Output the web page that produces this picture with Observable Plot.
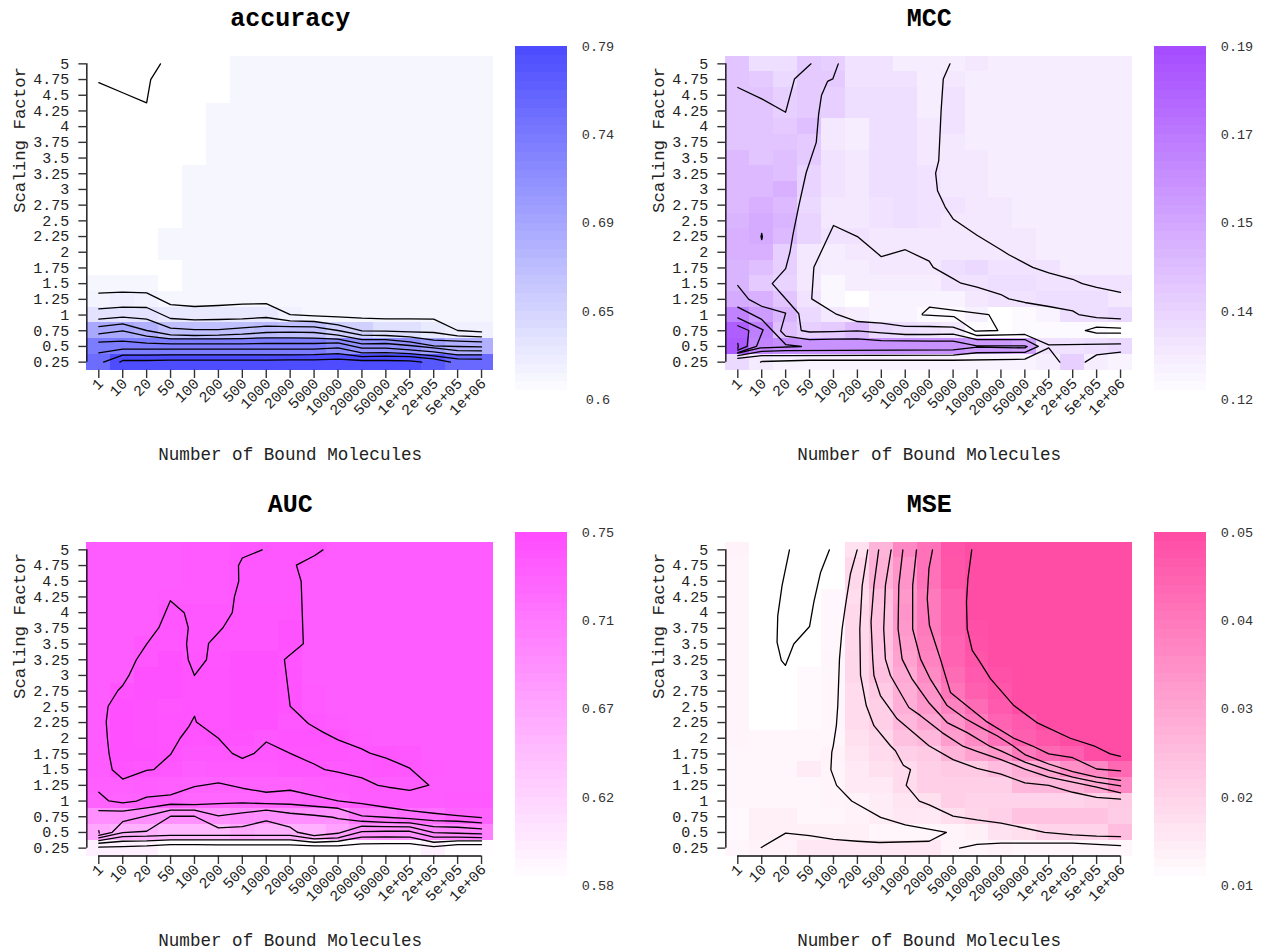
<!DOCTYPE html>
<html><head><meta charset="utf-8">
<script src="https://cdn.jsdelivr.net/npm/d3@7"></script>
<script src="https://cdn.jsdelivr.net/npm/@observablehq/plot@0.6"></script>
<style>
html,body{margin:0;padding:0;background:#fff}
#root{position:relative;width:1265px;height:949px;overflow:hidden}
#root>svg{position:absolute}
</style></head><body><div id="root"></div>
<script>
const xLabels=["1","10","20","50","100","200","500","1000","2000","5000","10000","20000","50000","1e+05","2e+05","5e+05","1e+06"];
const yValues=[5,4.75,4.5,4.25,4,3.75,3.5,3.25,3,2.75,2.5,2.25,2,1.75,1.5,1.25,1,0.75,0.5,0.25];

const accuracyCells=[
[.6,.6,.6,.6,.6,.6,.61,.61,.61,.61,.61,.61,.61,.61,.61,.61,.61],
[.6,.6,.6,.6,.6,.6,.61,.61,.61,.61,.61,.61,.61,.61,.61,.61,.61],
[.6,.6,.6,.6,.6,.6,.61,.61,.61,.61,.61,.61,.61,.61,.61,.61,.61],
[.6,.6,.6,.6,.6,.61,.61,.61,.61,.61,.61,.61,.61,.61,.61,.61,.61],
[.6,.6,.6,.6,.6,.61,.61,.61,.61,.61,.61,.61,.61,.61,.61,.61,.61],
[.6,.6,.6,.6,.6,.61,.61,.61,.61,.61,.61,.61,.61,.61,.61,.61,.61],
[.6,.6,.6,.6,.6,.61,.61,.61,.61,.61,.61,.61,.61,.61,.61,.61,.61],
[.6,.6,.6,.6,.61,.61,.61,.61,.61,.61,.61,.61,.61,.61,.61,.61,.61],
[.6,.6,.6,.6,.61,.61,.61,.61,.61,.61,.61,.61,.61,.61,.61,.61,.61],
[.6,.6,.6,.6,.61,.61,.61,.61,.61,.61,.61,.61,.61,.61,.61,.61,.61],
[.6,.6,.6,.6,.61,.61,.61,.61,.61,.61,.61,.61,.61,.61,.61,.61,.61],
[.6,.6,.6,.61,.61,.61,.61,.61,.61,.61,.61,.61,.61,.61,.61,.61,.61],
[.6,.6,.6,.61,.61,.61,.61,.61,.61,.61,.61,.61,.61,.61,.61,.61,.61],
[.6,.6,.6,.6,.61,.61,.61,.61,.61,.61,.61,.61,.61,.61,.61,.61,.61],
[.61,.61,.61,.6,.61,.61,.61,.61,.61,.61,.61,.61,.61,.61,.61,.61,.61],
[.612,.618,.615,.61,.61,.61,.61,.61,.61,.61,.61,.61,.61,.61,.61,.61,.61],
[.63,.63,.63,.625,.625,.625,.625,.625,.615,.61,.61,.61,.61,.61,.61,.61,.61],
[.693,.693,.684,.667,.667,.667,.667,.673,.667,.667,.65,.65,.633,.633,.622,.616,.616],
[.74,.74,.74,.74,.74,.74,.74,.74,.74,.74,.725,.718,.718,.718,.7,.684,.684],
[.757,.79,.79,.79,.79,.79,.79,.79,.79,.79,.79,.79,.79,.79,.778,.76,.76]];

const mccCells=[
[.143,.133,.133,.141,.139,.131,.131,.127,.127,.127,.129,.127,.127,.127,.127,.127,.127],
[.143,.141,.135,.141,.141,.131,.131,.131,.127,.129,.127,.127,.127,.127,.127,.127,.127],
[.143,.143,.139,.141,.139,.133,.133,.133,.127,.131,.127,.127,.127,.127,.127,.127,.127],
[.143,.143,.139,.141,.139,.133,.133,.133,.127,.131,.127,.127,.127,.127,.127,.127,.127],
[.143,.143,.141,.145,.129,.127,.133,.133,.129,.131,.127,.127,.127,.127,.127,.127,.127],
[.143,.143,.143,.141,.129,.127,.133,.133,.129,.129,.127,.127,.127,.127,.127,.127,.127],
[.147,.143,.145,.141,.131,.129,.133,.133,.129,.129,.129,.127,.127,.127,.127,.127,.127],
[.147,.147,.145,.137,.131,.129,.133,.133,.131,.129,.129,.127,.127,.127,.127,.127,.127],
[.147,.147,.151,.137,.131,.129,.133,.133,.131,.129,.129,.127,.127,.127,.127,.127,.127],
[.147,.151,.147,.135,.129,.129,.131,.133,.131,.131,.129,.129,.127,.127,.127,.127,.127],
[.149,.153,.149,.137,.129,.129,.131,.133,.131,.129,.129,.129,.127,.127,.127,.127,.127],
[.151,.153,.147,.137,.131,.131,.129,.129,.129,.129,.129,.129,.129,.127,.127,.127,.127],
[.151,.151,.139,.129,.127,.129,.129,.129,.129,.129,.129,.129,.129,.127,.127,.127,.127],
[.149,.145,.139,.129,.127,.127,.129,.129,.129,.133,.135,.131,.131,.131,.127,.127,.127],
[.149,.141,.137,.129,.123,.127,.127,.127,.127,.131,.131,.133,.133,.131,.131,.131,.131],
[.153,.151,.143,.131,.123,.12,.125,.125,.125,.125,.129,.131,.131,.133,.133,.133,.129],
[.169,.159,.149,.135,.129,.127,.125,.125,.122,.122,.126,.12,.122,.125,.133,.133,.135],
[.183,.17,.145,.139,.141,.147,.135,.133,.131,.129,.121,.12,.122,.122,.122,.122,.12],
[.185,.168,.165,.163,.163,.163,.163,.163,.163,.163,.16,.16,.157,.131,.131,.133,.135],
[.135,.128,.125,.125,.125,.125,.125,.125,.125,.125,.125,.125,.125,.127,.139,.127,.125]];

const aucCells=[
[.736,.736,.736,.736,.738,.738,.74,.74,.74,.74,.736,.736,.736,.736,.736,.736,.736],
[.736,.736,.736,.736,.738,.738,.74,.74,.74,.736,.736,.736,.736,.736,.736,.736,.736],
[.736,.736,.736,.736,.738,.738,.74,.74,.74,.736,.736,.736,.736,.736,.736,.736,.736],
[.736,.736,.736,.738,.738,.738,.74,.74,.74,.736,.736,.736,.736,.736,.736,.736,.736],
[.736,.736,.736,.74,.74,.74,.741,.741,.741,.736,.736,.736,.736,.736,.736,.736,.736],
[.736,.736,.736,.741,.741,.741,.741,.741,.745,.736,.736,.736,.736,.736,.736,.736,.736],
[.736,.736,.741,.741,.741,.741,.741,.741,.745,.736,.736,.736,.736,.736,.736,.736,.736],
[.736,.736,.741,.747,.743,.743,.747,.747,.743,.736,.736,.736,.736,.736,.736,.736,.736],
[.736,.736,.747,.747,.744,.744,.747,.747,.744,.736,.736,.736,.736,.736,.736,.736,.736],
[.736,.744,.747,.747,.744,.744,.747,.747,.744,.738,.736,.736,.736,.736,.736,.736,.736],
[.736,.747,.745,.742,.744,.744,.747,.747,.744,.738,.736,.736,.736,.736,.736,.736,.736],
[.736,.748,.745,.744,.744,.744,.747,.747,.74,.74,.738,.736,.736,.736,.736,.736,.736],
[.736,.748,.745,.744,.744,.745,.745,.74,.744,.744,.742,.738,.736,.736,.736,.736,.736],
[.736,.747,.747,.744,.74,.741,.741,.741,.742,.742,.742,.74,.742,.74,.736,.736,.736],
[.736,.744,.742,.74,.736,.738,.738,.738,.74,.74,.738,.74,.742,.74,.738,.736,.736],
[.733,.733,.735,.733,.73,.73,.73,.73,.73,.733,.735,.736,.736,.736,.736,.736,.736],
[.73,.73,.73,.73,.725,.725,.725,.725,.725,.73,.73,.736,.736,.736,.736,.738,.738],
[.687,.687,.687,.684,.684,.684,.69,.687,.687,.687,.684,.708,.708,.718,.718,.73,.73],
[.665,.655,.655,.646,.646,.646,.661,.655,.655,.655,.67,.684,.684,.684,.694,.694,.702],
[.594,.594,.594,.582,.582,.582,.582,.582,.582,.582,.582,.582,.582,.582,.594,.582,.582]];

const mseCells=[
[.0128,.01,.01,.01,.01,.0168,.0268,.037,.042,.0484,.05,.05,.05,.05,.05,.05,.05],
[.0125,.01,.01,.01,.01,.0188,.0276,.034,.042,.048,.05,.05,.05,.05,.05,.05,.05],
[.0125,.01,.01,.01,.01,.0188,.0276,.034,.042,.048,.05,.05,.05,.05,.05,.05,.05],
[.0125,.01,.01,.01,.0118,.0178,.0244,.033,.04,.046,.05,.05,.05,.05,.05,.05,.05],
[.0125,.01,.01,.01,.0118,.0188,.0235,.034,.04,.046,.05,.05,.05,.05,.05,.05,.05],
[.0125,.01,.01,.01,.0118,.0188,.0235,.033,.04,.046,.0495,.05,.05,.05,.05,.05,.05],
[.0125,.01,.01,.01,.0118,.0188,.0235,.032,.039,.045,.049,.05,.05,.05,.05,.05,.05],
[.0125,.01,.01,.01,.012,.019,.023,.031,.038,.045,.048,.05,.05,.05,.05,.05,.05],
[.0125,.01,.01,.0115,.012,.019,.024,.029,.036,.043,.047,.049,.05,.05,.05,.05,.05],
[.0125,.01,.01,.0115,.012,.018,.022,.028,.034,.041,.046,.048,.05,.05,.05,.05,.05],
[.0125,.01,.01,.0115,.012,.018,.021,.028,.033,.038,.043,.047,.05,.05,.05,.05,.05],
[.0125,.01,.01,.0115,.012,.018,.021,.026,.03,.034,.04,.045,.047,.05,.05,.05,.05],
[.0125,.012,.012,.012,.012,.017,.019,.024,.026,.032,.036,.042,.046,.048,.05,.05,.05],
[.012,.012,.012,.012,.013,.016,.018,.021,.022,.027,.031,.033,.04,.044,.046,.05,.05],
[.012,.012,.012,.0145,.0125,.015,.017,.018,.021,.022,.022,.025,.028,.03,.035,.037,.044],
[.012,.012,.012,.012,.0125,.015,.015,.018,.021,.021,.021,.021,.026,.026,.027,.03,.037],
[.012,.012,.012,.012,.0125,.013,.014,.016,.017,.021,.02,.02,.02,.02,.02,.021,.022],
[.0115,.0135,.0135,.012,.012,.013,.014,.0155,.015,.0175,.0195,.0205,.0235,.0235,.0235,.0235,.0215],
[.0115,.0135,.0135,.0135,.0135,.0135,.012,.012,.012,.0125,.0135,.0165,.0175,.02,.02,.02,.0245],
[.012,.013,.013,.0155,.0155,.0155,.0155,.0155,.0155,.0125,.012,.013,.012,.012,.012,.012,.012]];

const byCol=ys=>ys.map((y,i)=>[i,y]);

const accuracyLines=[
[[0,4.7],[1,4.54],[2,4.38],[2.17,4.75],[2.58,5]],
byCol([1.348,1.364,1.353,1.167,1.136,1.152,1.173,1.183,1.008,.987,.971,.95,.939,.939,.934,.754,.732]),
byCol([1.099,1.125,1.12,.945,.923,.929,.939,.961,.907,.897,.844,.748,.743,.732,.722,.669,.653]),
byCol([.934,.966,.934,.791,.769,.769,.796,.823,.817,.812,.754,.679,.674,.653,.6,.584,.573]),
byCol([.817,.86,.754,.685,.674,.679,.695,.722,.727,.722,.679,.61,.61,.573,.509,.499,.493]),
byCol([.7,.748,.663,.621,.621,.621,.626,.637,.637,.631,.616,.541,.547,.515,.477,.435,.43]),
byCol([.568,.584,.552,.541,.541,.541,.541,.547,.547,.547,.557,.472,.472,.446,.414,.366,.366]),
byCol([.398,.456,.456,.456,.456,.456,.456,.456,.456,.456,.477,.398,.403,.387,.35,.302,.297]),
[[.2,.25],[1,.361],[2,.361],[3,.366],[8,.366],[9,.371],[10,.387],[11,.339],[12,.345],[13,.339],[14,.302],[14.7,.25]],
[[.88,.25],[1,.276],[2,.276],[3,.281],[7,.281],[8,.286],[9,.286],[10,.297],[11,.276],[12,.276],[13,.27],[13.5,.25]]];

const mccLines=[
[[0,4.623],[1,4.443],[2,4.23],[2.37,4.76],[3.06,5]],
[[4.2,5],[3.97,4.76],[3.75,4.72],[3.5,4.5],[3.38,4.2],[3.28,3.75],[2.86,3.27],[2.55,2.74],[2.31,2.29],[2.18,2],[2,1.74],[1.44,1.5],[2,1.26],[2.55,1.02],[2.65,.754],[3,.73],[4,.737],[5,.748],[6,.716],[7,.69],[8,.69],[9,.695],[10,.61],[12,.61],[12.56,.5],[12,.405],[10,.4],[9,.361],[2,.355],[1,.355],[0,.31]],
[[0,1.47],[.46,1.25],[1,1.14],[2,1.03],[1.79,.745],[2,.665],[3,.61],[4,.616],[5,.62],[6,.594],[7,.59],[8,.584],[9,.584],[10,.509],[12,.509],[12.1,.499],[12,.477],[10,.488],[9,.446],[2,.435],[1,.42],[0,.355]],
[[0,1.125],[1,.93],[2,.53],[2.66,.499],[.95,.477],[0,.393]],
[[0,.955],[1.06,.765],[.78,.5],[0,.4]],
[[0,.83],[.46,.754],[.39,.5],[0,.44]],
[[0,.55],[.02,.5],[0,.47]],
[[.95,.25],[1,.26],[3,.28],[9,.28],[12,.297],[13,.477],[13.46,.25]],
[[14.52,.25],[15,.366],[16,.41]],
[[16,.791],[15,.807],[14.53,.754],[15,.711],[16,.711]],
[[7.71,1.019],[8.01,1.125],[10.49,1.008],[10.87,.754],[9.93,.743],[9.03,.976],[7.71,1.003],[7.71,1.019]],
[[1,2.3],[.97,2.25],[1,2.2],[1.03,2.25],[1,2.3]],
[[8.87,5],[8.59,4.76],[8.5,4.26],[8.44,3.78],[8.4,3.46],[8.27,3.26],[8.35,2.98],[8.67,2.72],[9,2.53],[10,2.27],[11,2.04],[11.33,1.96],[12.33,1.76],[13,1.67],[14,1.57],[14.4,1.5],[15,1.44],[16,1.36]],
[[16,.94],[15,.96],[14.25,1.008],[14,1.067],[13,1.136],[12,1.2],[11.33,1.258],[11,1.327],[10,1.444],[9.33,1.507],[9,1.58],[8.17,1.76],[8,1.858],[7,2.04],[6,1.93],[5,2.25],[4,2.426],[3.18,1.76],[3.09,1.258],[4.09,1.02],[5,.897],[6,.87],[7,.82],[8,.818],[9,.807],[10,.674],[12,.69],[13,.525],[16,.54]]];

const aucLines=[
[[6.83,5],[6,4.87],[5.84,4.75],[5.85,4.5],[5.67,4.25],[5.58,4],[5.19,3.76],[4.59,3.51],[4.5,3.25],[4,3],[3.74,3.25],[3.67,3.5],[3.74,3.76],[3.57,4],[2.99,4.19],[2.51,3.76],[2,3.5],[1.57,3.25],[1.26,3],[1,2.84],[.8,2.76],[.39,2.51],[.31,2.26],[.36,2],[.43,1.75],[.56,1.5],[1,1.35],[2,1.49],[2.29,1.5],[3,1.74],[3.4,2],[3.77,2.19],[4,2.35],[4.08,2.26],[5,2],[5.58,1.76],[6,1.68],[6.5,1.76],[7,1.94],[8,1.76],[9,1.59],[9.45,1.5],[10,1.46],[11,1.37],[11.67,1.25],[12.1,1.22],[13,1.17],[13.8,1.253],[13,1.523],[12.49,1.608],[12.01,1.683],[11.33,1.762],[10.99,1.83],[10,1.974],[9.37,2.097],[8.77,2.23],[8,2.51],[7.76,3.254],[8.55,3.503],[8.46,4.496],[8.26,4.756],[9.03,4.91],[9.37,5]],
[[0,1.14],[.42,1.002],[1,.97],[1.57,1],[2,1.061],[3,1.098],[4,1.23],[5,1.289],[6,1.204],[7,1.14],[8,1.172],[9,1.087],[10,1.002],[11,.96],[12,.901],[13,.848],[14,.806],[15,.769],[16,.737]],
byCol([.848,.838,.891,.949,.944,.96,.97,.96,.949,.917,.885,.763,.742,.721,.689,.678,.652]),
[[0,.455],[.56,.503],[1,.673],[2,.763],[3,.854],[4,.854],[5,.763],[6,.811],[7,.854],[8,.806],[9,.774],[9.78,.742],[10,.721],[11,.678],[12,.662],[13,.652],[14,.594],[15,.583],[16,.556]],
[[0,.413],[1,.498],[2,.519],[3,.758],[4,.758],[5,.572],[6,.594],[7,.684],[8,.583],[8.3,.503],[9,.45],[10,.487],[11,.599],[12,.594],[13,.588],[14,.498],[15,.487],[16,.477]],
byCol([.371,.434,.44,.455,.455,.455,.455,.455,.455,.397,.413,.514,.519,.519,.424,.424,.418]),
byCol([.328,.36,.365,.381,.381,.381,.381,.381,.381,.344,.36,.424,.429,.424,.344,.365,.365]),
byCol([.265,.275,.286,.307,.307,.302,.302,.302,.302,.286,.286,.317,.323,.323,.275,.307,.307]),
[[0,.53],[.02,.49]]];

const mseLines=[
[[2.16,5],[1.85,4.43],[1.67,3.95],[1.64,3.53],[1.82,3.24],[1.99,3.16],[2.34,3.5],[3,3.78],[3.18,4.17],[3.46,4.64],[3.83,5]],
[[4.99,5],[4.71,4.62],[4.5,4.11],[4.36,3.74],[4.25,3.26],[4.18,2.52],[4.12,2.2],[3.99,1.88],[3.93,1.78],[3.89,1.5],[4.13,1.25],[4.76,1],[5.97,.74],[7,.62],[8.72,.5],[8,.36],[5.92,.34],[5,.36],[4,.39],[3,.45],[2,.49],[.98,.26]],
[[5.43,5],[5.2,4.43],[5.1,3.74],[5.13,3],[5.37,2.52],[5.69,2.2],[6.38,1.88],[6.59,1.8],[6.92,1.57],[7.22,1.5],[7.04,1.25],[7.59,1],[8,.94],[9,.76],[10,.7],[11,.65],[12.83,.5],[14,.46],[15,.44],[16,.435]],
[[5.89,5],[5.69,4.43],[5.57,3.85],[5.64,3.26],[5.69,3],[5.96,2.68],[6.66,2.31],[7.99,1.88],[9,1.66],[10,1.52],[11,1.43],[12,1.29],[13,1.25],[14,1.14],[15,1.06],[16,1.03]],
[[6.41,5],[6.17,4.43],[6.1,3.74],[6.17,3.26],[6.38,3],[7.15,2.49],[7.64,2.36],[8.54,2.09],[9.38,1.88],[10,1.79],[11,1.66],[12,1.51],[13,1.38],[14,1.3],[15,1.22],[16,1.13]],
[[6.9,5],[6.73,4.43],[6.7,3.74],[6.87,3.26],[7.29,2.94],[7.98,2.57],[8.75,2.25],[9.59,2.09],[10.5,1.88],[11,1.8],[12,1.62],[13,1.49],[14,1.38],[15,1.3],[16,1.24]],
[[7.47,5],[7.31,4.43],[7.31,3.74],[7.64,3.26],[8.05,2.94],[8.75,2.52],[9.52,2.31],[10.28,2.15],[10.84,2.04],[11.5,1.88],[12,1.74],[13,1.59],[14,1.47],[15,1.38],[16,1.33]],
[[8.14,5],[7.99,4.7],[7.92,4.22],[8.01,3.8],[8.47,3.26],[8.89,2.73],[9.73,2.47],[10.42,2.26],[11.54,2],[12.3,1.88],[13,1.75],[14,1.69],[15,1.51],[16,1.48]],
[[9.78,5],[9.62,4.54],[9.56,4.17],[9.59,3.74],[9.8,3.4],[10.08,3.24],[10.56,2.95],[11.54,2.52],[12.5,2.25],[13.9,2],[14.88,1.88],[15.57,1.75],[16,1.71]],
[[9.27,.25],[10,.31],[11,.33],[14,.33],[16,.29]]];

const panels=[
 {title:"accuracy",cells:accuracyCells,lines:accuracyLines,base:"#4d4dff",lo:.6,hi:.79,labels:["0.6","0.65","0.69","0.74","0.79"],left:0,top:0,line:false},
 {title:"MCC",cells:mccCells,lines:mccLines,base:"#a64dff",lo:.12,hi:.19,labels:["0.12","0.14","0.15","0.17","0.19"],left:639,top:0,line:false},
 {title:"AUC",cells:aucCells,lines:aucLines,base:"#ff4dff",lo:.58,hi:.75,labels:["0.58","0.62","0.67","0.71","0.75"],left:0,top:486,line:true},
 {title:"MSE",cells:mseCells,lines:mseLines,base:"#ff4da6",lo:.01,hi:.05,labels:["0.01","0.02","0.03","0.04","0.05"],left:639,top:486,line:true}
];

const root=document.getElementById("root");
const mono="'Liberation Mono', monospace";
for(const p of panels){
  const data=p.cells.flatMap((row,r)=>row.map((value,c)=>({c,y:yValues[r],value})));
  const color={type:"linear",domain:[p.lo,p.hi],range:["#ffffff",p.base],interpolate:"rgb"};
  const xIdx=d3.range(xLabels.length);
  const marks=[
    Plot.rect(data,{x1:d=>d.c-.5,x2:d=>d.c+.5,y1:d=>d.y-.125,y2:d=>d.y+.125,fill:d=>d.value,shapeRendering:"crispEdges"}),
    ...p.lines.map(l=>Plot.line(l,{x:d=>d[0],y:d=>d[1],stroke:"#000",strokeWidth:1.3,curve:"linear"})),
    Plot.ruleX([-.5],{y1:.25,y2:5,stroke:"#111",strokeWidth:1.4}),
    Plot.axisY(yValues,{anchor:"left",tickSize:8,tickPadding:9.5,tickFormat:d=>String(d),label:null,fontSize:15,stroke:"#333",strokeWidth:1.4,fill:"#222"}),
    Plot.axisX(xIdx,{anchor:"bottom",tickSize:8.5,tickFormat:()=>"",label:null,stroke:"#333",strokeWidth:1.4}),
    Plot.text(xIdx,{x:d=>d,text:i=>xLabels[i],frameAnchor:"bottom",dx:2,dy:11,rotate:-45,textAnchor:"end",lineAnchor:"middle",fontSize:15,fill:"#222"}),
    Plot.text([p.title],{frameAnchor:"top",dy:-38.5,lineAnchor:"middle",fontSize:25,fontWeight:"bold",fill:"#000"}),
    Plot.text(["Number of Bound Molecules"],{frameAnchor:"bottom",dy:84,lineAnchor:"middle",fontSize:17.6,fill:"#222"}),
    Plot.text(["Scaling Factor"],{frameAnchor:"left",dx:-67.3,rotate:-90,lineAnchor:"middle",fontSize:17.4,fill:"#222"})
  ];
  if(p.line) marks.push(Plot.ruleY([.125],{x1:0,x2:16,stroke:"#111",strokeWidth:1.4}));
  const chart=Plot.plot({
    width:640,height:463,marginLeft:86.34,marginRight:147,marginTop:55.5,marginBottom:93.5,
    x:{domain:[-.5,16.5],axis:null},y:{domain:[.125,5.125],axis:null},color,
    style:{fontFamily:mono,background:"transparent",overflow:"visible"},marks});
  chart.style.left=p.left+"px";chart.style.top=p.top+"px";
  root.appendChild(chart);

  const steps=d3.range(40);
  const tickVals=p.labels.map((_,i)=>p.lo+i*(p.hi-p.lo)/4);
  const legend=Plot.plot({
    width:130,height:373,marginLeft:0,marginRight:78,marginTop:10,marginBottom:10,
    x:{domain:[0,1],axis:null},y:{domain:[p.lo,p.hi],axis:null},color,
    style:{fontFamily:mono,background:"transparent",overflow:"visible"},
    marks:[
      Plot.rect(steps,{x1:()=>0,x2:()=>1,y1:i=>p.lo+(p.hi-p.lo)*i/40,y2:i=>p.lo+(p.hi-p.lo)*(i+1)/40,fill:i=>p.lo+(p.hi-p.lo)*i/39,shapeRendering:"crispEdges"}),
      Plot.text(p.labels,{x:()=>1,y:(d,i)=>tickVals[i],dx:30.5,textAnchor:"middle",lineAnchor:"middle",fontSize:13.5,fill:"#333"})
    ]});
  legend.style.left=(p.left+515)+"px";legend.style.top=(p.top+36)+"px";
  root.appendChild(legend);
}
</script></body></html>
